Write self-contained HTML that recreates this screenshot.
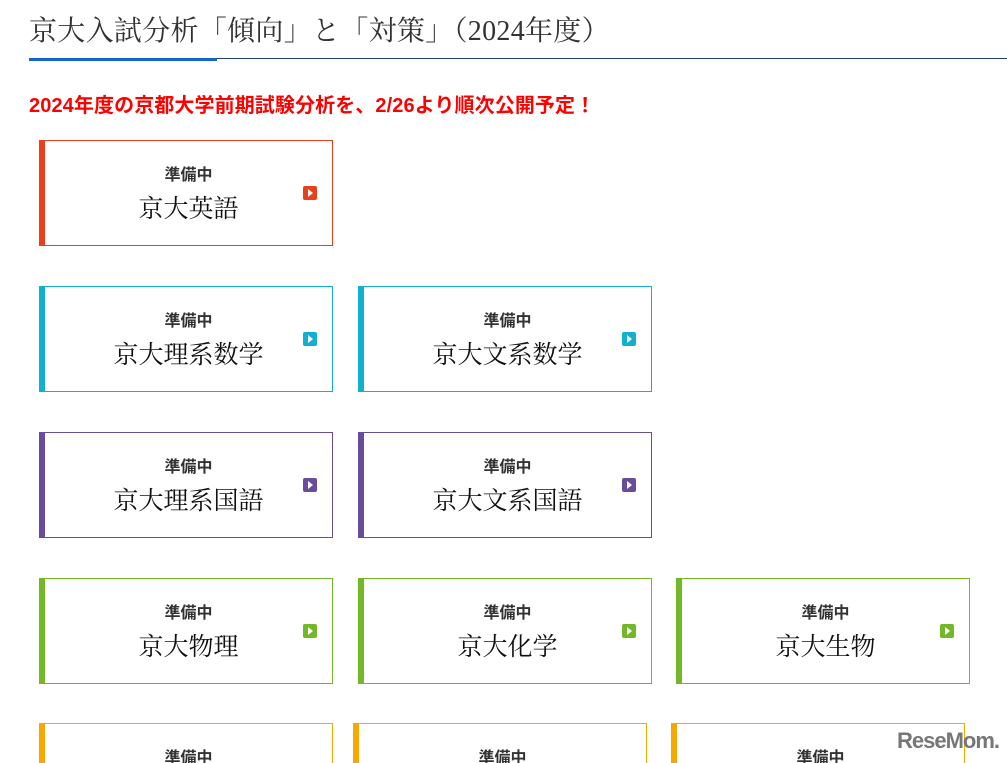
<!DOCTYPE html>
<html><head><meta charset="utf-8"><style>
html,body{margin:0;width:1007px;height:763px;overflow:hidden;background:#fff}
body{position:relative;font-family:"Liberation Sans","Noto Sans CJK JP",sans-serif}
h1{position:absolute;left:29px;top:9px;margin:0;font:400 28px "Liberation Serif","Noto Serif CJK SC",serif;color:#333;white-space:nowrap;letter-spacing:0.3px}
.l1{position:absolute;left:29px;top:58px;width:978px;height:1px;background:#1d3f7a}
.l2{position:absolute;left:29px;top:58px;width:188px;height:3px;background:#1565c8}
.red{position:absolute;left:29px;top:89px;color:#f00;font-weight:bold;font-size:20px;white-space:nowrap;letter-spacing:0.1px}
.b{position:absolute;width:287px;height:104px;border:1px solid;border-left-width:6px;box-sizing:content-box;overflow:hidden}
.b.last{height:40px;border-bottom:0}
.b .s{position:absolute;left:0;width:287px;top:20px;text-align:center;font-weight:bold;font-size:16px;color:#333}
.b .t{position:absolute;left:0;width:287px;top:48px;text-align:center;font:400 25px "Liberation Serif","Noto Serif CJK SC",serif;color:#111}
.b .i{position:absolute;left:258px;top:45px;width:14px;height:14px;border-radius:2px}
.b .i:after{content:"";position:absolute;left:5px;top:3px;border-left:5px solid #fff;border-top:4px solid transparent;border-bottom:4px solid transparent}
.logo{position:absolute;left:897px;top:728px;font:bold 22px "Liberation Sans",sans-serif;color:#777;letter-spacing:-1px}
</style></head><body>
<h1>京大入試分析「傾向」と「対策」（2024年度）</h1>
<div class="l1"></div><div class="l2"></div>
<div class="red">2024年度の京都大学前期試験分析を、2/26より順次公開予定！</div>

<div class="b" style="left:39px;top:140px;border-color:#e8401a"><div class="s">準備中</div><div class="t">京大英語</div><div class="i" style="background:#e8401a"></div></div>

<div class="b" style="left:39px;top:286px;border-color:#11b0d0"><div class="s">準備中</div><div class="t">京大理系数学</div><div class="i" style="background:#11b0d0"></div></div>
<div class="b" style="left:358px;top:286px;border-color:#11b0d0"><div class="s">準備中</div><div class="t">京大文系数学</div><div class="i" style="background:#11b0d0"></div></div>

<div class="b" style="left:39px;top:432px;border-color:#6a4c9c"><div class="s">準備中</div><div class="t">京大理系国語</div><div class="i" style="background:#6a4c9c"></div></div>
<div class="b" style="left:358px;top:432px;border-color:#6a4c9c"><div class="s">準備中</div><div class="t">京大文系国語</div><div class="i" style="background:#6a4c9c"></div></div>

<div class="b" style="left:39px;top:578px;border-color:#72b829"><div class="s">準備中</div><div class="t">京大物理</div><div class="i" style="background:#72b829"></div></div>
<div class="b" style="left:358px;top:578px;border-color:#72b829"><div class="s">準備中</div><div class="t">京大化学</div><div class="i" style="background:#72b829"></div></div>
<div class="b" style="left:676px;top:578px;border-color:#72b829"><div class="s">準備中</div><div class="t">京大生物</div><div class="i" style="background:#72b829"></div></div>

<div class="b last" style="left:39px;top:723px;border-color:#f5a800"><div class="s">準備中</div></div>
<div class="b last" style="left:353px;top:723px;border-color:#f5a800"><div class="s">準備中</div></div>
<div class="b last" style="left:671px;top:723px;border-color:#f5a800"><div class="s">準備中</div></div>
<div class="logo">ReseMom.</div>
</body></html>
